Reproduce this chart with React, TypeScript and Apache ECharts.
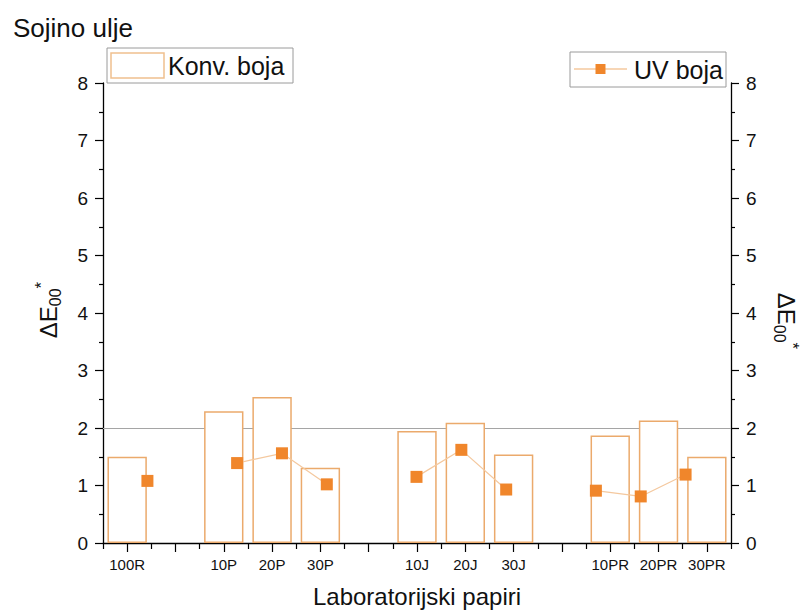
import React, { useEffect, useRef } from "react";
import * as echarts from "echarts";

const categories = ["100R", " ", "10P", "20P", "30P", "  ", "10J", "20J", "30J", "   ", "10PR", "20PR", "30PR"];
const konvValues = [1.5, null, 2.29, 2.54, 1.31, null, 1.95, 2.09, 1.54, null, 1.87, 2.13, 1.5];
const uvValues = [1.08, null, 1.39, 1.56, 1.02, null, 1.15, 1.62, 0.93, null, 0.91, 0.81, 1.19];
const yTicks = { min: 0, max: 8, interval: 1 };
const referenceLevel = 2;

const FONT = "Liberation Sans, Arial, sans-serif";
const BAR_BORDER = "#EBAA6C";
const MARKER = "#F0862B";
const LINE = "#F4C89E";
const TXT = "#111";
const W = 802;
const H = 613;

const nameRich = {
  a: { fontSize: 24, lineHeight: 30, verticalAlign: "middle", color: TXT, fontFamily: FONT },
  b: { fontSize: 16, lineHeight: 16, verticalAlign: "bottom", color: TXT, fontFamily: FONT },
  c: { fontSize: 17, lineHeight: 24, verticalAlign: "top", color: TXT, fontFamily: FONT },
};

function yAxisCommon(position: "left" | "right") {
  return {
    type: "value",
    gridIndex: 0,
    position,
    min: yTicks.min,
    max: yTicks.max,
    interval: yTicks.interval,
    axisLine: { show: true, lineStyle: { color: "#000", width: 1.3 } },
    axisTick: { show: true, inside: false, length: 8, lineStyle: { color: "#000", width: 1.2 } },
    minorTick: { show: true, splitNumber: 2, length: 4, lineStyle: { color: "#000", width: 1.2 } },
    splitLine: { show: false },
    axisLabel: { fontSize: 19, color: TXT, fontFamily: FONT, margin: 15 },
    name: "{a|ΔE}{b|00}{c|*}",
    nameLocation: "middle",
    nameRotate: position === "left" ? 90 : -90,
    nameGap: 40,
    nameTextStyle: {
      rich: nameRich,
      padding: position === "left" ? [0, 0, 0, 6] : [0, 0, 0, 16],
    },
  };
}

export default function App() {
  const ref = useRef<HTMLDivElement>(null);
  useEffect(() => {
    if (!ref.current) return;
    document.body.style.margin = "0";
    const chart = echarts.init(ref.current, null, { renderer: "svg", width: W, height: H });
    const gridTop = 83;
    const gridBottom = 70;
    chart.setOption({
      animation: false,
      backgroundColor: "#fff",
      title: {
        text: "Sojino ulje",
        left: 8,
        top: 10,
        textStyle: { fontSize: 26, fontWeight: "normal", color: TXT, fontFamily: FONT },
      },
      grid: [
        { left: 103, right: 71, top: gridTop, bottom: gridBottom, containLabel: false, outerBoundsMode: "none" },
        { left: 125, right: 94, top: gridTop, bottom: gridBottom, containLabel: false, outerBoundsMode: "none" },
      ],
      xAxis: [
        {
          type: "category",
          gridIndex: 0,
          data: categories,
          boundaryGap: true,
          position: "bottom",
          axisLine: { show: true, lineStyle: { color: "#000", width: 1.3 } },
          axisTick: { show: true, alignWithLabel: true, interval: 0, length: 9, lineStyle: { color: "#000", width: 1.2 } },
          axisLabel: { interval: 0, fontSize: 15, color: TXT, fontFamily: FONT, margin: 14 },
          splitLine: { show: false },
          name: "Laboratorijski papiri",
          nameLocation: "middle",
          nameGap: 41,
          nameTextStyle: { fontSize: 24, color: TXT, fontFamily: FONT },
        },
        {
          type: "category",
          gridIndex: 0,
          data: categories,
          boundaryGap: true,
          position: "bottom",
          axisLine: { show: false },
          axisTick: { show: true, alignWithLabel: false, interval: 0, length: 6, lineStyle: { color: "#000", width: 1.2 } },
          axisLabel: { show: false },
          splitLine: { show: false },
        },
        {
          type: "category",
          gridIndex: 1,
          data: categories,
          boundaryGap: true,
          show: false,
        },
      ],
      yAxis: [
        yAxisCommon("left"),
        yAxisCommon("right"),
        { type: "value", gridIndex: 1, min: yTicks.min, max: yTicks.max, interval: yTicks.interval, show: false },
      ],
      series: [
        {
          name: "Konv. boja",
          type: "bar",
          xAxisIndex: 0,
          yAxisIndex: 0,
          data: konvValues,
          barWidth: "81.5%",
          z: 3,
          itemStyle: { color: "#fff", borderColor: BAR_BORDER, borderWidth: 1.5 },
          markLine: {
            silent: true,
            z: 1,
            symbol: ["none", "none"],
            label: { show: false },
            lineStyle: { color: "#A5A5A5", width: 1, type: "solid" },
            data: [{ yAxis: referenceLevel }],
          },
        },
        {
          name: "UV boja",
          type: "line",
          xAxisIndex: 2,
          yAxisIndex: 2,
          data: uvValues,
          connectNulls: false,
          symbol: "rect",
          symbolSize: 12,
          z: 5,
          itemStyle: { color: MARKER },
          lineStyle: { color: LINE, width: 1.2 },
        },
      ],
      graphic: [
        { type: "rect", shape: { x: 107, y: 48, width: 186, height: 35 }, style: { fill: "#fff", stroke: "#9a9a9a", lineWidth: 1 }, z: 10 },
        { type: "rect", shape: { x: 111, y: 53, width: 53, height: 25 }, style: { fill: "#fff", stroke: "#F0C08E", lineWidth: 1.5 }, z: 11 },
        { type: "text", x: 168, y: 66, style: { text: "Konv. boja", fontSize: 25, fill: TXT, fontFamily: FONT, verticalAlign: "middle", align: "left" }, z: 11 },
        { type: "rect", shape: { x: 570, y: 52, width: 156, height: 35 }, style: { fill: "#fff", stroke: "#9a9a9a", lineWidth: 1 }, z: 10 },
        { type: "line", shape: { x1: 574, y1: 69, x2: 627, y2: 69 }, style: { stroke: LINE, lineWidth: 1.5 }, z: 11 },
        { type: "rect", shape: { x: 595.5, y: 64, width: 10, height: 10 }, style: { fill: MARKER }, z: 12 },
        { type: "text", x: 634, y: 70, style: { text: "UV boja", fontSize: 25, fill: TXT, fontFamily: FONT, verticalAlign: "middle", align: "left" }, z: 11 },
      ],
    });
    return () => chart.dispose();
  }, []);
  return <div ref={ref} style={{ position: "absolute", left: 0, top: 0, width: W, height: H, overflow: "hidden" }} />;
}
